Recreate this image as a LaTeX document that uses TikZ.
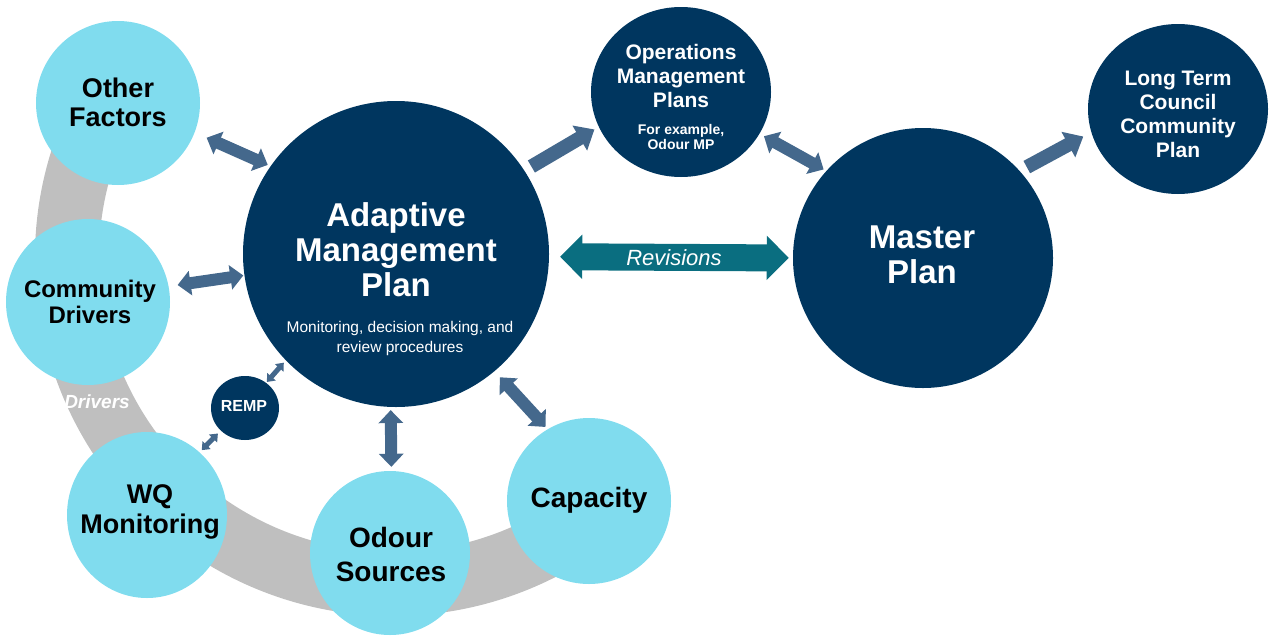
\documentclass[tikz,border=0pt]{standalone}
\usepackage{fontspec}
\setmainfont{Liberation Sans}
\usetikzlibrary{arrows.meta,shapes.geometric}
\definecolor{lightc}{RGB}{128,220,238}
\definecolor{navyc}{RGB}{0,54,95}
\definecolor{arrc}{RGB}{68,104,140}
\definecolor{tealc}{RGB}{10,110,128}
\definecolor{bandc}{RGB}{191,191,191}
\tikzset{
  bubl/.style={ellipse, fill=lightc, inner sep=0pt},
  bubd/.style={ellipse, fill=navyc, inner sep=0pt},
  tk/.style={align=center, text=black, inner sep=0pt},
  tw/.style={align=center, text=white, inner sep=0pt},
  darr/.style={draw=arrc, line width=12pt, {Triangle[width=24pt,length=13pt]}-{Triangle[width=24pt,length=13pt]}},
  sarr/.style={draw=arrc, line width=14pt, -{Triangle[width=28pt,length=17pt]}},
  smarr/.style={draw=arrc, line width=5pt, {Triangle[width=11pt,length=7pt]}-{Triangle[width=11pt,length=7pt]}},
  rarr/.style={draw=tealc, line width=27pt, {Triangle[width=43pt,length=22pt]}-{Triangle[width=43pt,length=22pt]}},
}
\begin{document}
\begin{tikzpicture}[x=1pt,y=-1pt]
\useasboundingbox (0,0) rectangle (1277,635);
% grey band
\coordinate (bc) at (393,258);
\draw[bandc, line width=64pt] (bc) ++(210:326) arc[start angle=210, end angle=60, radius=326];
% light bubbles
\node[bubl, minimum width=164pt, minimum height=164pt] (of) at (118,103) {};
\node[bubl, minimum width=164pt, minimum height=166pt] (cd) at (88,302) {};
\node[bubl, minimum width=160pt, minimum height=166pt] (wq) at (147,515) {};
\node[bubl, minimum width=160pt, minimum height=164pt] (os) at (390,553) {};
\node[bubl, minimum width=164pt, minimum height=166pt] (cap) at (589,501) {};
% dark bubbles
\node[bubd, minimum width=68pt, minimum height=64pt] (remp) at (245,408) {};
\node[bubd, minimum width=306pt, minimum height=306pt] (amp) at (396,254) {};
\node[bubd, minimum width=180pt, minimum height=170pt] (ops) at (681,92) {};
\node[bubd, minimum width=260pt, minimum height=260pt] (mp) at (923,258) {};
\node[bubd, minimum width=180pt, minimum height=170pt] (lt) at (1178,109) {};
% texts
\node[tw, font=\bfseries\itshape\fontsize{19}{21}\selectfont] (drv) at (97,402) {Drivers};
\node[tk, font=\bfseries\fontsize{27}{29}\selectfont] (ofT) at (118,102) {Other\\Factors};
\node[tk, font=\bfseries\fontsize{24}{26}\selectfont] (cdT) at (90,302) {Community\\Drivers};
\node[tk, font=\bfseries\fontsize{27}{30}\selectfont] (wqT) at (150,512) {WQ\\Monitoring};
\node[tk, font=\bfseries\fontsize{28}{34}\selectfont] (osT) at (391,554) {Odour\\Sources};
\node[tk, font=\bfseries\fontsize{28}{30}\selectfont] (capT) at (589,500) {Capacity};
\node[tw, font=\bfseries\fontsize{16}{18}\selectfont] (rempT) at (244,406) {REMP};
\node[tw, font=\bfseries\fontsize{33}{35}\selectfont] (ampT) at (396,250) {Adaptive\\Management\\Plan};
\node[tw, font=\fontsize{15.5}{20}\selectfont] (ampS) at (400,338) {Monitoring, decision making, and\\review procedures};
\node[tw, font=\bfseries\fontsize{21}{24}\selectfont] (opsT) at (681,76) {Operations\\Management\\Plans};
\node[tw, font=\bfseries\fontsize{14}{15}\selectfont] (opsS) at (681,137) {For example,\\Odour MP};
\node[tw, font=\bfseries\fontsize{33}{35}\selectfont] (mpT) at (922,255) {Master\\Plan};
\node[tw, font=\bfseries\fontsize{21}{24}\selectfont] (ltT) at (1178,114) {Long Term\\Council\\Community\\Plan};
% arrows
\draw[darr, shorten <=13pt, shorten >=3pt] (of.-21) -- (amp.145);
\draw[darr, shorten <=9pt, shorten >=1pt] (cd.11) -- (amp.188);
\draw[smarr, shorten <=1pt, shorten >=3pt] (remp.50) -- (amp.224.5);
\draw[smarr, shorten <=4pt, shorten >=3pt] (remp.223) -- (wq.50);
\draw[darr, shorten <=3pt, shorten >=4pt] (amp.268.5) -- (os.89);
\draw[darr, shorten <=8pt, shorten >=3pt] (amp.-50.6) -- (cap.120.7);
\draw[sarr, shorten <=8pt, shorten >=5pt] (amp.33.6) -- (ops.203.8);
\draw[darr, shorten <=5pt, shorten >=3pt] (ops.-28.8) -- (mp.138.7);
\draw[sarr, shorten <=8pt, shorten >=9pt] (mp.42.4) -- (lt.195.3);
\draw[rarr, shorten <=11pt, shorten >=4pt] (amp.-1.2) -- (mp.180)
  node[midway, tw, font=\itshape\fontsize{22}{24}\selectfont, xshift=3pt] (revT) {Revisions};
\end{tikzpicture}
\end{document}
